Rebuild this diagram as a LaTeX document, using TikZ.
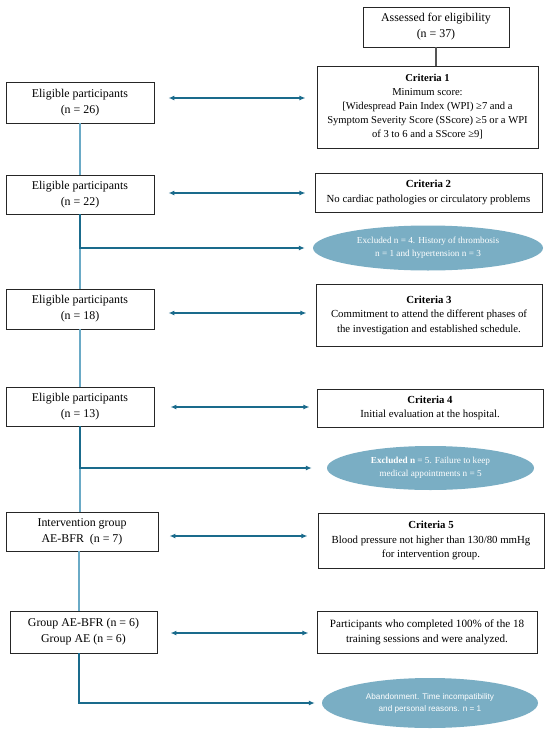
\documentclass[tikz,border=0pt]{standalone}
\usepackage{fontspec}
\setmainfont{Liberation Serif}
\setsansfont{Liberation Sans}
\usetikzlibrary{arrows.meta,shapes.geometric,calc}
\definecolor{boxline}{HTML}{262626}
\definecolor{darklink}{HTML}{1A6B8C}
\definecolor{lightlink}{HTML}{6AAAC6}
\definecolor{ellfill}{HTML}{7AAEC4}
\definecolor{graylink}{HTML}{555555}
\tikzset{
  flowbox/.style={draw=boxline, line width=0.95pt, fill=white, align=center, inner sep=1pt,
    font=\fontsize{11.9}{16}\selectfont},
  critbox/.style={draw=boxline, line width=0.95pt, fill=white, align=center, inner sep=1pt,
    font=\fontsize{10.8}{14.5}\selectfont},
  exclell/.style={ellipse, fill=ellfill, draw=none, inner sep=0pt, align=center, text=white,
    font=\fontsize{9.2}{13}\selectfont},
  lightline/.style={draw=lightlink, line width=1.3pt},
  darkline/.style={draw=darklink, line width=1.3pt, -{Latex[length=6pt,width=5pt]}},
  biarrow/.style={draw=darklink, line width=1.3pt, {Latex[length=6pt,width=5pt]}-{Latex[length=6pt,width=5pt]}},
  grayline/.style={draw=graylink, line width=1.1pt}
}
\begin{document}
\begin{tikzpicture}[x=1pt,y=-1pt]
\useasboundingbox[fill=white] (0,0) rectangle (550,736);

% right column
\node[flowbox, minimum width=146pt, minimum height=40pt] (Top) at (436,27) {Assessed for eligibility\\(n = 37)};
\node[critbox, minimum width=221pt, minimum height=82pt, font=\fontsize{10.6}{14}\selectfont] (Crit1) at (427.5,107)
  {\textbf{Criteria 1}\\Minimum score:\\{[}Widespread Pain Index (WPI) ≥7 and a\\Symptom Severity Score (SScore) ≥5 or a WPI\\of 3 to 6 and a SScore ≥9]};
\node[critbox, minimum width=227pt, minimum height=39pt] (Crit2) at (428.5,192.5)
  {\textbf{Criteria 2}\\No cardiac pathologies or circulatory problems};
\node[exclell, minimum width=230pt, minimum height=45pt] (Ell1) at (428,248)
  {Excluded n = 4. History of thrombosis\\n = 1 and hypertension n = 3};
\node[critbox, minimum width=226pt, minimum height=62pt] (Crit3) at (429,315)
  {\textbf{Criteria 3}\\Commitment to attend the different phases of\\the investigation and established schedule.};
\node[critbox, minimum width=226pt, minimum height=38pt] (Crit4) at (430,408)
  {\textbf{Criteria 4}\\Initial evaluation at the hospital.};
\node[exclell, minimum width=207pt, minimum height=44pt] (Ell2) at (430.5,468)
  {\textbf{Excluded n} = 5. Failure to keep\\medical appointments n = 5};
\node[critbox, minimum width=226pt, minimum height=55pt] (Crit5) at (431,540.5)
  {\textbf{Criteria 5}\\Blood pressure not higher than 130/80 mmHg\\for intervention group.};
\node[critbox, minimum width=220pt, minimum height=42pt, font=\fontsize{11.1}{15}\selectfont] (Part) at (427,632)
  {Participants who completed 100\% of the 18\\training sessions and were analyzed.};
\node[exclell, minimum width=216pt, minimum height=50pt, font=\sffamily\fontsize{8.2}{12}\selectfont] (Ell3) at (430,703)
  {Abandonment. Time incompatibility\\and personal reasons. n = 1};

% left column
\node[flowbox, minimum width=148pt, minimum height=41pt] (E26) at (80,102.5) {Eligible participants\\(n = 26)};
\node[flowbox, minimum width=148pt, minimum height=39pt] (E22) at (80,194.5) {Eligible participants\\(n = 22)};
\node[flowbox, minimum width=148pt, minimum height=40pt] (E18) at (80,309) {Eligible participants\\(n = 18)};
\node[flowbox, minimum width=148pt, minimum height=39pt] (E13) at (80,406.5) {Eligible participants\\(n = 13)};
\node[flowbox, minimum width=152pt, minimum height=39pt] (Int) at (82,531.5) {Intervention group\\AE-BFR\ \ (n = 7)};
\node[flowbox, minimum width=147pt, minimum height=42pt] (Group) at (83.5,632) {Group AE-BFR (n = 6)\\Group AE (n = 6)};

% connectors
\draw[grayline] (Top.south) -- (Top.south |- Crit1.north);
\draw[lightline] (E26.south) -- (E26.south |- E22.north);
\draw[lightline] (E22.south) -- (E22.south |- E18.north);
\draw[lightline] (E18.south) -- (E18.south |- E13.north);
\draw[lightline] (E13.south) -- (E13.south |- Int.north);
\coordinate (ib) at ([xshift=-3pt]Int.south);
\draw[lightline] (ib) -- (ib |- Group.north);
\coordinate (gb) at ([xshift=-4.5pt]Group.south);

\draw[darkline] (E22.south) |- ([xshift=-8pt]Ell1.west);
\draw[darkline] (E13.south) |- ([xshift=-15pt]Ell2.west);
\draw[darkline] (gb) |- ([xshift=-7pt]Ell3.west);

\draw[biarrow] ([xshift=14pt,yshift=4.5pt]E26.east) -- ++(137,0);
\draw[biarrow] ([xshift=14pt,yshift=1.5pt]E22.east) -- ++(137,0);
\draw[biarrow] ([xshift=14pt,yshift=-4pt]E18.east) -- ++(138,0);
\draw[biarrow] ([xshift=16pt,yshift=-0.5pt]E13.east) -- ++(139,0);
\draw[biarrow] ([xshift=11pt,yshift=-4.5pt]Int.east) -- ++(138,0);
\draw[biarrow] ([xshift=13pt,yshift=-1pt]Group.east) -- ++(138,0);
\end{tikzpicture}
\end{document}
